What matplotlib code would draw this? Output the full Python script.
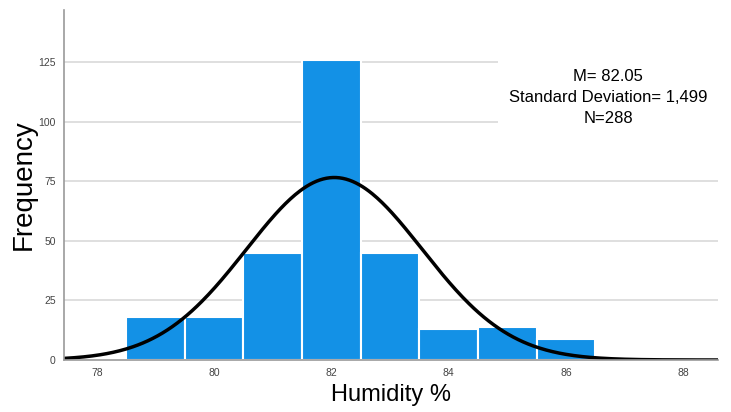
import numpy as np
import matplotlib.pyplot as plt

plt.rcParams['font.family'] = ['Liberation Sans', 'DejaVu Sans']

# histogram of humidity, bins of width 1
bin_centers = [79, 80, 81, 82, 83, 84, 85, 86]
counts = [18, 18, 45, 126, 45, 13, 14, 9]
mean = 82.05
sd = 1.499
n = 288
x_ticks = [78, 80, 82, 84, 86, 88]
y_ticks = [0, 25, 50, 75, 100, 125]

fig = plt.figure(figsize=(7.31, 4.12), dpi=100)
ax = fig.add_axes([0.0876, 0.1262, 0.895, 0.8495])

ax.bar(bin_centers, counts, width=1.0, color='#1391e6', edgecolor='white',
       linewidth=1.5, zorder=2)

xs = np.linspace(77.44, 88.6, 400)
pdf = n * 1.0 / (sd * np.sqrt(2 * np.pi)) * np.exp(-0.5 * ((xs - mean) / sd) ** 2)
ax.plot(xs, pdf, color='black', linewidth=2.5, zorder=3)

ax.set_xlim(77.44, 88.6)
ax.set_ylim(0, 147)
ax.set_xticks(x_ticks)
ax.set_yticks(y_ticks)
ax.tick_params(length=0, labelsize=7.5, colors='#444444', pad=6)
for y in y_ticks[1:]:
    ax.axhline(y, color='#d9d9d9', linewidth=1.2, zorder=1)

for s in ['top', 'right']:
    ax.spines[s].set_visible(False)
for s in ['left', 'bottom']:
    ax.spines[s].set_color('#9a9a9a')
    ax.spines[s].set_linewidth(1.2)
    ax.spines[s].set_zorder(4)

ax.set_xlabel('Humidity %', fontsize=17, labelpad=4)
ax.set_ylabel('Frequency', fontsize=20, labelpad=1)

ax.text(0.832, 0.75, 'M= 82.05\nStandard Deviation= 1,499\nN=288',
        transform=ax.transAxes, ha='center', va='center', fontsize=12,
        linespacing=1.5, zorder=5,
        bbox=dict(facecolor='white', edgecolor='none', pad=8))

fig.savefig('out.png', dpi=100)
